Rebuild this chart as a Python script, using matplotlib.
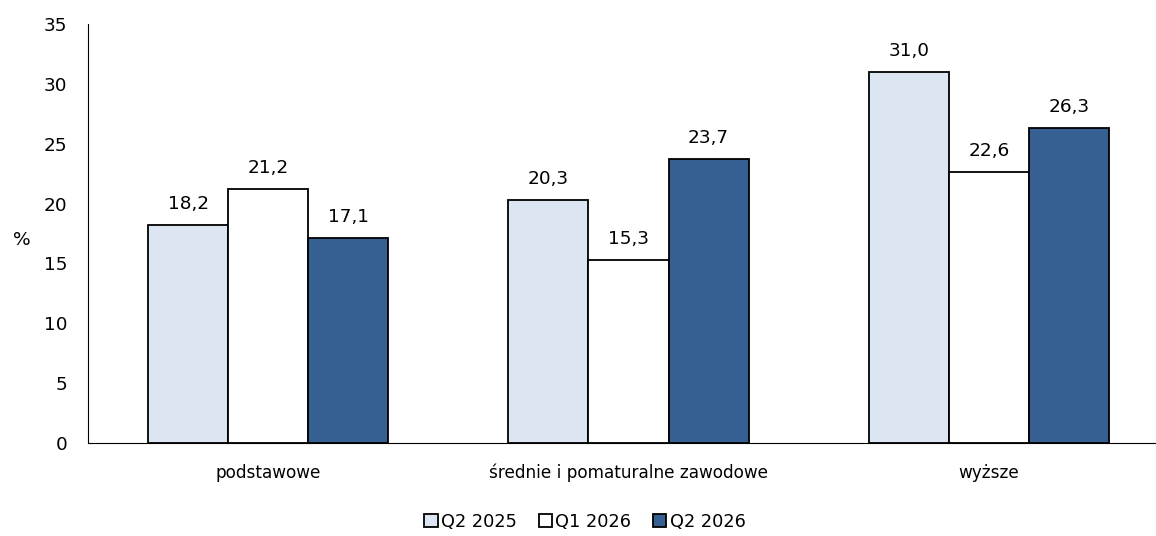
import numpy as np
import matplotlib.pyplot as plt
from matplotlib.patches import Patch

# Dati
categories = ['podstawowe', 'średnie i pomaturalne zawodowe', 'wyższe']
series_names = ['Q2 2025', 'Q1 2026', 'Q2 2026']
q2_2025 = [18.2, 20.3, 31.0]
q1_2026 = [21.2, 15.3, 22.6]
q2_2026 = [17.1, 23.7, 26.3]

colors = ['#dce6f2', '#ffffff', '#376092']
values = [q2_2025, q1_2026, q2_2026]

plt.rcParams['font.family'] = ['DejaVu Sans']

fig = plt.figure(figsize=(11.56, 5.36), dpi=100)
ax = fig.add_axes([88 / 1156, 1 - 443 / 536, 1081 / 1156, 419 / 536])

x = np.arange(len(categories))
width = 80 / 360

for i, (vals, col) in enumerate(zip(values, colors)):
    pos = x + (i - 1) * width
    bars = ax.bar(pos, vals, width, color=col, edgecolor='black', linewidth=1.3,
                  label=series_names[i], zorder=2)
    for b, v in zip(bars, vals):
        ax.text(b.get_x() + b.get_width() / 2, v + 1.0, f'{v:.1f}'.replace('.', ','),
                ha='center', va='bottom', fontsize=13.3)

ax.set_xlim(-0.5, 2.5)
ax.set_ylim(0, 35)
ax.set_yticks(range(0, 36, 5))
ax.set_xticks(x)
ax.set_xticklabels(categories, fontsize=12.2)
ax.tick_params(axis='both', length=0)
ax.tick_params(axis='y', pad=15, labelsize=13.3)
ax.tick_params(axis='x', pad=15)
for s in ['top', 'right']:
    ax.spines[s].set_visible(False)
ax.spines['left'].set_linewidth(0.8)
ax.spines['bottom'].set_linewidth(0.8)

fig.text(22 / 1156, 1 - 240 / 536, '%', ha='center', va='center', fontsize=13.3)

handles = [Patch(facecolor=c, edgecolor='black', linewidth=1.3) for c in colors]
fig.legend(handles, series_names, loc='center', bbox_to_anchor=(585 / 1156, 1 - 522 / 536),
           ncol=3, frameon=False, fontsize=12.8, handlelength=0.75, handleheight=0.75,
           handletextpad=0.2, columnspacing=1.2)

fig.savefig('out.png', dpi=100)
